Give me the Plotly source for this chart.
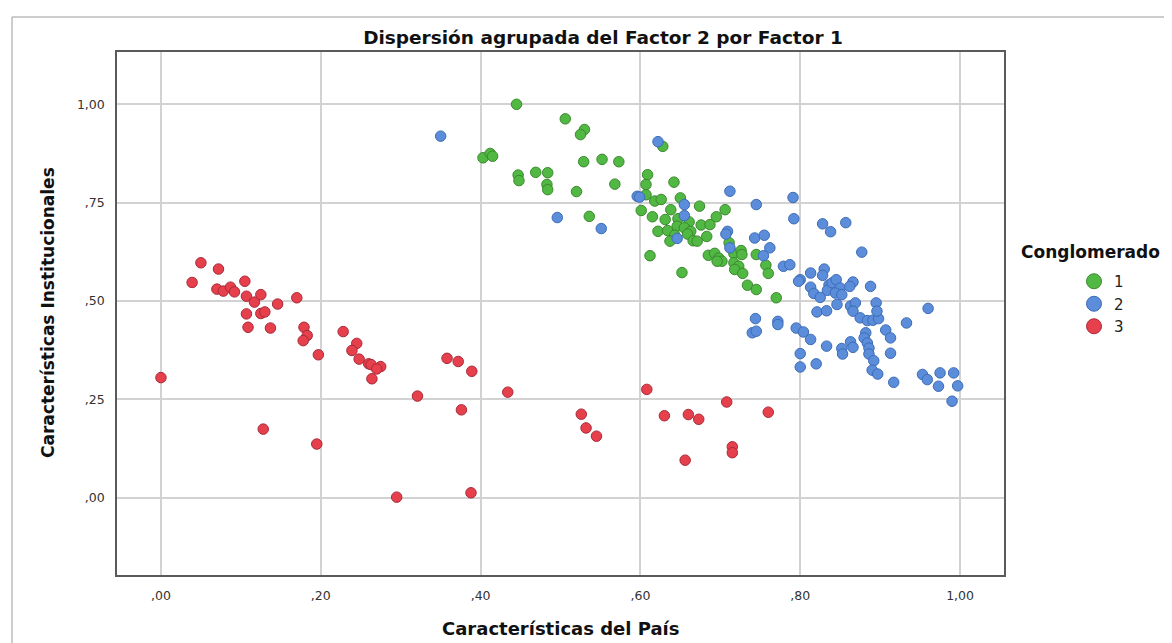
import plotly.graph_objects as go

# ---------------- data ----------------
x_ticks = [0.0, 0.2, 0.4, 0.6, 0.8, 1.0]
x_tick_labels = [",00", ",20", ",40", ",60", ",80", "1,00"]
y_ticks = [0.0, 0.25, 0.5, 0.75, 1.0]
y_tick_labels = [",00", ",25", ",50", ",75", "1,00"]

cluster_names = ["1", "2", "3"]

# Conglomerado 1 (green)
c1_x = [0.445, 0.506, 0.530, 0.525, 0.403, 0.412, 0.415, 0.447, 0.448, 0.469,
        0.484, 0.483, 0.484, 0.520, 0.529, 0.552, 0.573, 0.568, 0.536, 0.628,
        0.609, 0.607, 0.607, 0.601, 0.618, 0.626, 0.642, 0.650, 0.638, 0.615,
        0.631, 0.647, 0.661, 0.646, 0.655, 0.663, 0.622, 0.634, 0.643, 0.637,
        0.659, 0.666, 0.671, 0.674, 0.676, 0.687, 0.695, 0.706, 0.683, 0.612,
        0.652, 0.685, 0.693, 0.698, 0.702, 0.696, 0.711, 0.717, 0.726, 0.727,
        0.717, 0.723, 0.718, 0.728, 0.734, 0.745, 0.770, 0.745, 0.757, 0.760]
c1_y = [1.000, 0.963, 0.936, 0.923, 0.864, 0.875, 0.868, 0.820, 0.806, 0.827,
        0.826, 0.796, 0.783, 0.778, 0.854, 0.860, 0.854, 0.797, 0.715, 0.893,
        0.821, 0.796, 0.770, 0.730, 0.754, 0.758, 0.802, 0.762, 0.732, 0.714,
        0.707, 0.709, 0.701, 0.690, 0.686, 0.677, 0.677, 0.679, 0.667, 0.652,
        0.670, 0.653, 0.652, 0.741, 0.693, 0.694, 0.714, 0.732, 0.664, 0.615,
        0.572, 0.616, 0.621, 0.609, 0.601, 0.601, 0.648, 0.620, 0.628, 0.618,
        0.597, 0.588, 0.580, 0.570, 0.540, 0.529, 0.508, 0.618, 0.591, 0.570]

# Conglomerado 2 (blue)
c2_x = [0.350, 0.496, 0.551, 0.596, 0.599, 0.622, 0.655, 0.655, 0.646, 0.709,
        0.707, 0.712, 0.712, 0.745, 0.743, 0.755, 0.762, 0.754, 0.779, 0.744,
        0.772, 0.772, 0.791, 0.792, 0.828, 0.838, 0.857, 0.877, 0.787, 0.800,
        0.798, 0.813, 0.830, 0.828, 0.813, 0.817, 0.825, 0.836, 0.834, 0.840,
        0.845, 0.850, 0.844, 0.852, 0.866, 0.862, 0.888, 0.846, 0.821, 0.833,
        0.863, 0.869, 0.866, 0.875, 0.884, 0.891, 0.898, 0.895, 0.896, 0.933,
        0.960, 0.907, 0.913, 0.913, 0.917, 0.740, 0.745, 0.795, 0.804, 0.813,
        0.800, 0.800, 0.820, 0.833, 0.852, 0.853, 0.863, 0.866, 0.882, 0.880,
        0.884, 0.886, 0.886, 0.892, 0.890, 0.897, 0.953, 0.959, 0.975, 0.992,
        0.973, 0.997, 0.990]
c2_y = [0.919, 0.712, 0.684, 0.766, 0.764, 0.905, 0.745, 0.717, 0.659, 0.677,
        0.670, 0.635, 0.779, 0.745, 0.660, 0.667, 0.635, 0.615, 0.588, 0.455,
        0.448, 0.440, 0.763, 0.709, 0.696, 0.676, 0.699, 0.624, 0.592, 0.554,
        0.550, 0.571, 0.581, 0.565, 0.535, 0.519, 0.509, 0.541, 0.527, 0.546,
        0.554, 0.533, 0.520, 0.516, 0.548, 0.537, 0.537, 0.491, 0.472, 0.475,
        0.487, 0.495, 0.474, 0.457, 0.450, 0.451, 0.455, 0.495, 0.474, 0.444,
        0.481, 0.426, 0.406, 0.367, 0.293, 0.419, 0.423, 0.431, 0.421, 0.402,
        0.366, 0.332, 0.340, 0.385, 0.379, 0.365, 0.396, 0.382, 0.419, 0.406,
        0.393, 0.380, 0.365, 0.348, 0.324, 0.314, 0.313, 0.300, 0.317, 0.317,
        0.283, 0.284, 0.245]

# Conglomerado 3 (red)
c3_x = [0.000, 0.039, 0.050, 0.072, 0.070, 0.078, 0.087, 0.092, 0.105, 0.107,
        0.117, 0.125, 0.146, 0.170, 0.107, 0.125, 0.130, 0.109, 0.137, 0.179,
        0.183, 0.178, 0.197, 0.228, 0.245, 0.239, 0.248, 0.260, 0.263, 0.275,
        0.270, 0.264, 0.128, 0.195, 0.295, 0.321, 0.358, 0.372, 0.389, 0.376,
        0.388, 0.434, 0.526, 0.532, 0.545, 0.608, 0.630, 0.660, 0.673, 0.708,
        0.760, 0.715, 0.715, 0.656]
c3_y = [0.305, 0.547, 0.597, 0.581, 0.530, 0.525, 0.535, 0.523, 0.550, 0.512,
        0.497, 0.516, 0.492, 0.508, 0.467, 0.468, 0.472, 0.433, 0.431, 0.433,
        0.412, 0.399, 0.363, 0.422, 0.392, 0.374, 0.352, 0.340, 0.338, 0.333,
        0.327, 0.302, 0.174, 0.136, 0.001, 0.258, 0.354, 0.346, 0.321, 0.223,
        0.012, 0.268, 0.212, 0.177, 0.156, 0.275, 0.208, 0.211, 0.199, 0.243,
        0.217, 0.129, 0.114, 0.095]

# ---------------- styling ----------------
W, H = 1172, 643
L, R, T, B = 109, 176, 44, 76
PW, PH = W - L - R, H - T - B

fills = ["#52b844", "#5b8ddb", "#e7404d"]
edges = ["#3a892d", "#3d6cb5", "#a82a38"]
FONT = "DejaVu Sans"

def px_x(p):
    return (p - L) / PW

def px_y(p):
    return (H - B - p) / PH

fig = go.Figure()
series = [(c1_x, c1_y), (c2_x, c2_y), (c3_x, c3_y)]
for i, (xs, ys) in enumerate(series):
    fig.add_trace(go.Scatter(
        x=xs, y=ys, mode="markers", name=cluster_names[i],
        legendgroup=cluster_names[i], showlegend=False,
        marker=dict(size=10.5, color=fills[i], line=dict(color=edges[i], width=1)),
    ))
for i in range(3):
    fig.add_trace(go.Scatter(
        x=[None], y=[None], mode="markers", name=cluster_names[i],
        legendgroup=cluster_names[i], showlegend=True,
        marker=dict(size=15, color=fills[i], line=dict(color=edges[i], width=1)),
    ))

axis_common = dict(
    showgrid=True, gridcolor="#d2d2d2", gridwidth=1.5, zeroline=False,
    showline=True, linecolor="#5a5a5a", linewidth=1.5, mirror=True,
    ticks="", tickfont=dict(family=FONT, size=12.5, color="#333333"),
    ticklabelstandoff=8, fixedrange=True,
)

fig.update_layout(
    width=W, height=H,
    margin=dict(l=L, r=R, t=T, b=B, autoexpand=False),
    paper_bgcolor="white", plot_bgcolor="white",
    title=dict(text="Dispersión agrupada del Factor 2 por Factor 1",
               font=dict(family=FONT, size=18.5, color="#111111", weight="bold"),
               x=595 / W, xref="container", xanchor="center",
               y=1 - 30 / H, yref="container", yanchor="middle"),
    xaxis=dict(range=[-0.055, 1.055], tickvals=x_ticks, ticktext=x_tick_labels, **axis_common),
    yaxis=dict(range=[-0.197, 1.133], tickvals=y_ticks, ticktext=y_tick_labels, **axis_common),
    showlegend=True,
    legend=dict(x=1066 / W, xref="container", xanchor="left",
                y=1 - 257 / H, yref="container", yanchor="top",
                font=dict(family=FONT, size=15, color="#222222"),
                bgcolor="rgba(0,0,0,0)", tracegroupgap=0, itemwidth=30),
    annotations=[
        dict(text="Características del País", xref="paper", yref="paper",
             x=0.5, y=px_y(620), xanchor="center", yanchor="middle", showarrow=False,
             font=dict(family=FONT, size=18, color="#111111", weight="bold")),
        dict(text="Características Institucionales", xref="paper", yref="paper",
             x=px_x(40), y=px_y(305), xanchor="center", yanchor="middle", showarrow=False,
             textangle=-90,
             font=dict(family=FONT, size=17, color="#111111", weight="bold")),
        dict(text="Conglomerado", xref="paper", yref="paper",
             x=px_x(1011), y=px_y(244), xanchor="left", yanchor="middle", showarrow=False,
             font=dict(family=FONT, size=17, color="#111111", weight="bold")),
    ],
    shapes=[
        dict(type="rect", xref="paper", yref="paper",
             x0=px_x(4), x1=px_x(1169), y0=px_y(655), y1=px_y(9),
             line=dict(color="#9a9a9a", width=1), fillcolor="rgba(0,0,0,0)", layer="below"),
    ],
)

fig.write_html("out.html")
